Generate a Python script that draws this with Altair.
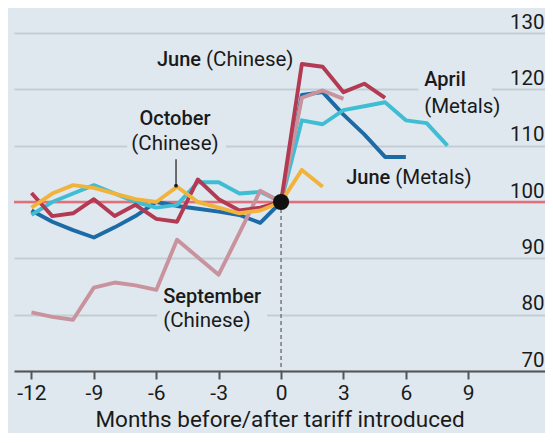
import altair as alt
import pandas as pd

# ---------------- data ----------------
months_june_metals = list(range(-12, 7))
june_metals = [98.5, 96.5, 95, 93.7, 95.5, 97.5, 100, 99.3, 98.8, 98.3, 97.7, 96.3, 100,
               119, 119.5, 115.5, 112, 108, 108]

months_april_metals = list(range(-12, 9))
april_metals = [97.7, 100, 101.5, 103, 101.5, 100, 99, 99.5, 103.5, 103.5, 101.5, 101.8, 100,
                114.5, 113.8, 116.3, 117, 117.7, 114.5, 114, 110]

months_sept_chinese = list(range(-12, 4))
sept_chinese = [80.4, 79.6, 79.1, 84.8, 85.7, 85.2, 84.4, 93.3, 90.2, 87.1, 94.5, 102, 100,
                118.5, 119.8, 118.3]

months_june_chinese = list(range(-12, 6))
june_chinese = [101.6, 97.5, 98, 100.5, 97.5, 99.5, 97, 96.5, 104, 100.5, 98.5, 99, 100,
                124.5, 124, 119.5, 121, 118.5]

months_oct_chinese = list(range(-12, 3))
oct_chinese = [99, 101.5, 103, 102.5, 101.5, 100.5, 100, 102.7, 100, 99, 98, 98.5, 100,
               105.7, 102.7]

series_order = ["June (Metals)", "April (Metals)", "September (Chinese)", "June (Chinese)", "October (Chinese)"]
series_colors = ["#1c6aa6", "#3fbdd3", "#c9939d", "#b23a52", "#f1b33b"]
series_months = [months_june_metals, months_april_metals, months_sept_chinese,
                 months_june_chinese, months_oct_chinese]
series_values = [june_metals, april_metals, sept_chinese, june_chinese, oct_chinese]

x_ticks = [-12, -9, -6, -3, 0, 3, 6, 9]
y_ticks = [70, 80, 90, 100, 110, 120, 130]

# annotations (data coordinates)
bold_labels = ["June", "October", "April", "June", "September"]
bold_x = [-3.75, -5.1, 6.88, 5.35, -5.67]
bold_y = [124.1, 113.7, 120.6, 103.2, 82.1]
bold_align = ["right", "center", "left", "right", "left"]
bold_dx = [-2, 0, 0, -2, 0]

reg_labels = ["(Chinese)", "(Chinese)", "(Metals)", "(Metals)", "(Chinese)"]
reg_x = [-3.75, -5.1, 6.88, 5.35, -5.67]
reg_y = [124.1, 109.3, 115.8, 103.2, 77.8]
reg_align = ["left", "center", "left", "left", "left"]
reg_dx = [3, 0, 0, 3, 0]

gap_x = [-7.4, 6.6, -5.96]
gap_x2 = [-2.64, 10.14, -0.67]
gap_line = [110, 120, 80]

BG = "#dfe8ef"
FONT = "Roboto"
TEXT = "#1a1a1a"

xscale = alt.Scale(domain=[-12.84, 12.69], nice=False, zero=False)
yscale = alt.Scale(domain=[70, 130], nice=False, zero=False)

xaxis = alt.Axis(values=x_ticks, title="Months before/after tariff introduced",
                 labelExpr="'' + datum.value",
                 grid=False, domainColor="#555555", domainWidth=2,
                 tickColor="#555555", tickWidth=2, tickSize=8,
                 labelFontSize=21, labelFont=FONT, labelColor=TEXT, labelPadding=3,
                 titleFontSize=22.5, titleFont=FONT, titleFontWeight="normal",
                 titleColor=TEXT, titleBaseline="alphabetic", titleY=55, labelFlush=False)
yaxis = alt.Axis(values=y_ticks, orient="right", title=None, domain=False, ticks=False,
                 tickSize=0, grid=True, gridColor="#c4cdd6", gridWidth=2.2,
                 labelAlign="right", labelBaseline="alphabetic", labelPadding=-1,
                 labelOffset=-5, labelFontSize=20.5, labelFont=FONT, labelColor=TEXT)

# base layer with axes (invisible)
axis_df = pd.DataFrame({"m": [x_ticks[0], x_ticks[-1]], "v": [y_ticks[0], y_ticks[-1]]})
base = alt.Chart(axis_df).mark_point(opacity=0).encode(
    x=alt.X("m:Q", scale=xscale, axis=xaxis),
    y=alt.Y("v:Q", scale=yscale, axis=yaxis),
)

gaps_df = pd.DataFrame({"x": gap_x, "x2": gap_x2, "g": gap_line})
gaps_df["y"] = gaps_df["g"] - 0.7
gaps_df["y2"] = gaps_df["g"] + 0.7
gaps = alt.Chart(gaps_df).mark_rect(color=BG).encode(
    x=alt.X("x:Q", scale=xscale), x2="x2:Q",
    y=alt.Y("y:Q", scale=yscale), y2="y2:Q")

ref_df = pd.DataFrame({"v": [100]})
ref100 = alt.Chart(ref_df).mark_rule(color="#e36f79", strokeWidth=2.5).encode(
    y=alt.Y("v:Q", scale=yscale))

dash_df = pd.DataFrame({"m": [0], "v": [100], "v2": [70]})
dash = alt.Chart(dash_df).mark_rule(color="#7a7f85", strokeWidth=1.6, strokeDash=[4, 3]).encode(
    x=alt.X("m:Q", scale=xscale), y=alt.Y("v:Q", scale=yscale), y2="v2:Q")

lines = []
for name, col, ms, vs in zip(series_order, series_colors, series_months, series_values):
    df = pd.DataFrame({"m": ms, "v": vs, "s": name})
    lines.append(alt.Chart(df).mark_line(color=col, strokeWidth=3.9, strokeJoin="round",
                                         strokeCap="butt").encode(
        x=alt.X("m:Q", scale=xscale), y=alt.Y("v:Q", scale=yscale), order="m:Q"))

leader_df = pd.DataFrame({"m": [-5.05], "v": [102.9], "v2": [107.6]})
leader = alt.Chart(leader_df).mark_rule(color=TEXT, strokeWidth=1.2).encode(
    x=alt.X("m:Q", scale=xscale), y=alt.Y("v:Q", scale=yscale), y2="v2:Q")
leader_dot = alt.Chart(leader_df).mark_circle(color=TEXT, size=14, opacity=1).encode(
    x=alt.X("m:Q", scale=xscale), y=alt.Y("v:Q", scale=yscale))

dot_df = pd.DataFrame({"m": [0], "v": [100]})
dot = alt.Chart(dot_df).mark_circle(color="#111111", size=260, opacity=1).encode(
    x=alt.X("m:Q", scale=xscale), y=alt.Y("v:Q", scale=yscale))

texts = []
for lbl, x, y, al, dx in zip(bold_labels, bold_x, bold_y, bold_align, bold_dx):
    d = pd.DataFrame({"m": [x], "v": [y], "t": [lbl]})
    texts.append(alt.Chart(d).mark_text(font=FONT, fontSize=20, fontWeight=500, color=TEXT,
                                        align=al, baseline="alphabetic", dx=dx).encode(
        x=alt.X("m:Q", scale=xscale), y=alt.Y("v:Q", scale=yscale), text="t:N"))
for lbl, x, y, al, dx in zip(reg_labels, reg_x, reg_y, reg_align, reg_dx):
    d = pd.DataFrame({"m": [x], "v": [y], "t": [lbl]})
    texts.append(alt.Chart(d).mark_text(font=FONT, fontSize=20.5, fontWeight="normal", color=TEXT,
                                        align=al, baseline="alphabetic", dx=dx).encode(
        x=alt.X("m:Q", scale=xscale), y=alt.Y("v:Q", scale=yscale), text="t:N"))

chart = alt.layer(base, gaps, ref100, dash, *lines, leader, leader_dot, dot, *texts).properties(
    width=531, height=338,
    background=BG,
    padding={"left": 6, "top": 25, "right": 0, "bottom": 62},
    autosize=alt.AutoSizeParams(type="none"),
).configure_view(stroke=None)

chart.save("out.html", embed_options={"renderer": "svg", "actions": False})
